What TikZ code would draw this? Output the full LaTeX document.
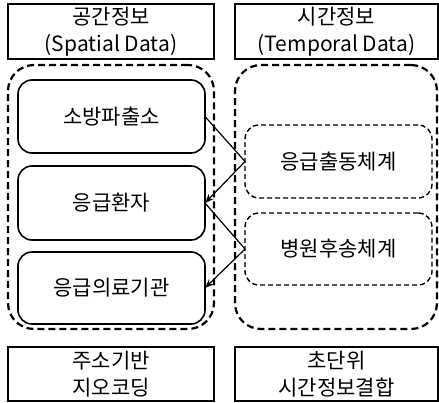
\documentclass[tikz,border=0pt]{standalone}
\usepackage{fontspec}
\setmainfont{Noto Sans CJK KR}
\usetikzlibrary{arrows.meta}
\begin{document}
\begin{tikzpicture}[x=1pt,y=-1pt,
  lbl/.style={draw, line width=1.2pt, inner sep=0pt, outer sep=0pt, align=center,
    font=\fontsize{21}{27}\selectfont},
  outer/.style={draw, line width=2.2pt, dash pattern=on 7pt off 4pt, rounded corners=26pt,
    inner sep=0pt, outer sep=0pt},
  item/.style={draw, line width=1.6pt, rounded corners=14pt, inner sep=0pt, outer sep=0pt,
    font=\fontsize{21}{24}\selectfont},
  ditem/.style={draw, line width=1.4pt, dash pattern=on 5pt off 3pt, rounded corners=14pt,
    inner sep=0pt, outer sep=0pt, font=\fontsize{21}{24}\selectfont},
  link/.style={line width=1.2pt},
  arr/.style={line width=1.2pt, -{Stealth[length=9pt,width=7pt]}}
]
\useasboundingbox (0,0) rectangle (439,402);
\node[lbl, minimum width=206pt, minimum height=55pt] (tl) at (111,31.5) {공간정보\\(Spatial Data)};
\node[lbl, minimum width=203pt, minimum height=55pt] (tr) at (336.5,31.5) {시간정보\\(Temporal Data)};
\node[lbl, minimum width=206pt, minimum height=54pt] (bl) at (111,374) {주소기반\\지오코딩};
\node[lbl, minimum width=203pt, minimum height=54pt] (br) at (336.5,374) {초단위\\시간정보결합};

\node[outer, minimum width=206pt, minimum height=264pt] (ol) at (111,197) {};
\node[outer, minimum width=202pt, minimum height=264pt] (or) at (336,197) {};

\node[item, minimum width=187pt, minimum height=73pt] (b1) at (111.5,116.5) {소방파출소};
\node[item, minimum width=187pt, minimum height=74pt] (b2) at (111.5,203) {응급환자};
\node[item, minimum width=187pt, minimum height=72pt] (b3) at (111.5,288) {응급의료기관};

\node[ditem, minimum width=187pt, minimum height=73pt] (d1) at (338.5,161.5) {응급출동체계};
\node[ditem, minimum width=187pt, minimum height=72pt] (d2) at (338.5,249) {병원후송체계};

\draw[link] (b1.east) -- (d1.west);
\draw[arr] (d1.west) -- (b2.east);
\draw[link] (b2.east) -- (d2.west);
\draw[arr] (d2.west) -- (b3.east);
\end{tikzpicture}
\end{document}
